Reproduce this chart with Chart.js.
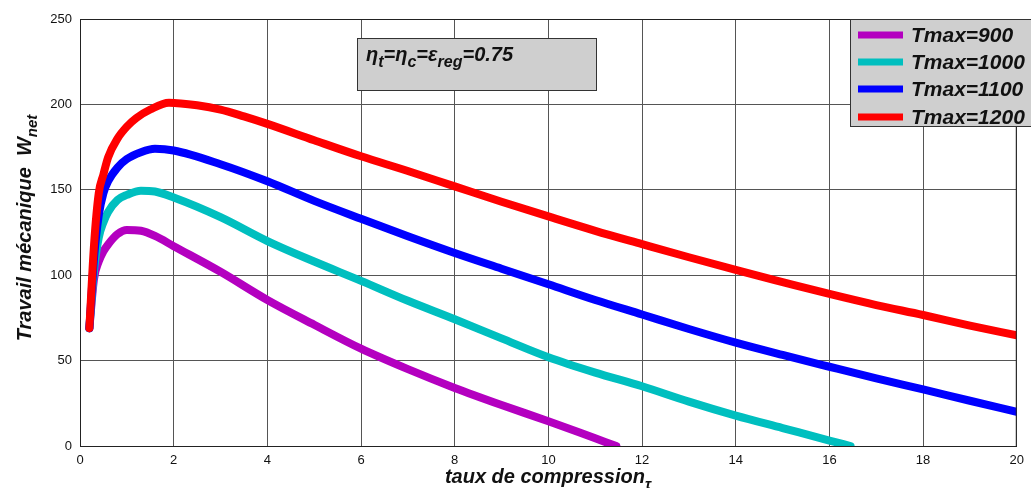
<!DOCTYPE html>
<html><head><meta charset="utf-8">
<script src="https://cdn.jsdelivr.net/npm/chart.js@4/dist/chart.umd.min.js"></script>
<style>html,body{margin:0;background:#fff}#wrap{width:1031px;height:488px}</style>
</head><body><div id="wrap"><canvas id="c"></canvas></div>
<script>
// valeurs (taux de compression -> travail net)
const tau900  = [0.2,0.3,0.4,0.5,0.6,0.8,1.0,1.3,1.6,2,3,4,5,6,7,8,9,10,11,11.45];
const w900    = [69,98,108,114,118,124,126.5,126,123,117,102,85.5,71,57,45,34,24,14.5,4.5,0];
const tau1000 = [0.2,0.3,0.4,0.5,0.6,0.8,1.0,1.3,1.6,2,3,4,5,6,7,8,9,10,11,12,13,14,15,16,16.45];
const w1000   = [69,103,122,131,137,144,147,149.5,149,145.5,134,120,108,96.7,85,74.2,63,52,43,35,26,17.8,10.5,3.2,0];
const tau1100 = [0.2,0.3,0.4,0.5,0.6,0.8,1.0,1.3,1.6,2,3,4,5,6,7,8,9,10,11,12,13,14,15,16,17,18,19,20];
const w1100   = [69,110,135,148,155,163,168,172,174,173,165,155,143.5,133,122.8,113,103.8,94.7,85.5,77,68.5,60.5,53.3,46.4,39.6,33.1,26.5,20];
const tau1200 = [0.2,0.3,0.4,0.5,0.6,0.8,1.0,1.2,1.5,1.9,2.5,3,3.5,4,5,6,7,8,9,10,11,12,13,14,15,16,17,18,19,20];
const w1200   = [69,118,148,159,169,180,187,192,197,201,199.5,197,193,188.6,179,169.6,161,152,143,134.4,126,118.2,110.5,103.1,96,89,82.5,76.7,70.5,64.8];
const labels  = ['Tmax=900','Tmax=1000','Tmax=1100','Tmax=1200'];
const colors  = ['#b400c0','#00bfbf','#0000ff','#ff0000'];
const xTicks  = [0,20,2];
const yTicks  = [0,250,50];

const FONT = '"Liberation Sans", Arial, Helvetica, sans-serif';
const pts = (xs,ys) => xs.map((x,i)=>({x, y:ys[i]}));
const series = [[tau900,w900],[tau1000,w1000],[tau1100,w1100],[tau1200,w1200]];

// texte avec indices : parts = [[texte, indice?], ...]
function richText(ctx, parts, x, y, size, subSize){
  let cx = x;
  parts.forEach(([t,sub])=>{
    ctx.font = `italic bold ${sub?subSize:size}px ${FONT}`;
    ctx.fillText(t, cx, sub ? y + size*0.3 : y);
    cx += ctx.measureText(t).width;
  });
  return cx - x;
}
function richWidth(ctx, parts, size, subSize){
  let w=0;
  parts.forEach(([t,sub])=>{ ctx.font=`italic bold ${sub?subSize:size}px ${FONT}`; w+=ctx.measureText(t).width; });
  return w;
}

const decor = {
  id:'decor',
  afterDatasetsDraw(chart){
    const ctx = chart.ctx, a = chart.chartArea;
    ctx.save();
    // cadre
    ctx.strokeStyle='#222'; ctx.lineWidth=1;
    ctx.strokeRect(a.left+0.5, a.top+0.5, a.right-a.left-1, a.bottom-a.top);
    ctx.textBaseline='alphabetic'; ctx.textAlign='left';

    // boite parametres
    ctx.fillStyle='#cfcfcf'; ctx.fillRect(357,38,239,52);
    ctx.strokeStyle='#333'; ctx.strokeRect(357.5,38.5,239,52);
    ctx.fillStyle='#111';
    richText(ctx, [['η'],['t',1],['=η'],['c',1],['=ε'],['reg',1],['=0.75']], 366, 61, 20, 16);

    // legende
    ctx.fillStyle='#cfcfcf'; ctx.fillRect(850,19,181,108);
    ctx.strokeStyle='#333'; ctx.strokeRect(850.5,19.5,182,107);
    const ly=[35,62,89,117];
    labels.forEach((lb,i)=>{
      ctx.strokeStyle=colors[i]; ctx.lineWidth=7; ctx.lineCap='butt';
      ctx.beginPath(); ctx.moveTo(858,ly[i]); ctx.lineTo(903,ly[i]); ctx.stroke();
      ctx.fillStyle='#111'; ctx.font=`italic bold 21px ${FONT}`;
      ctx.fillText(lb, 911, ly[i]+7);
    });

    // titre axe x
    const xp=[['taux de compression'],['τ',1]];
    const xw=richWidth(ctx,xp,20,15);
    ctx.fillStyle='#111';
    richText(ctx, xp, 548 - xw/2, 483, 20, 15);

    // titre axe y
    const yp=[['Travail mécanique  W'],['net',1]];
    const yw=richWidth(ctx,yp,20,15);
    ctx.translate(31, 228); ctx.rotate(-Math.PI/2);
    richText(ctx, yp, -yw/2, 0, 20, 15);
    ctx.restore();
  }
};

new Chart(document.getElementById('c'), {
  type:'line',
  data:{ datasets: series.map(([xs,ys],i)=>({
    label: labels[i], data: pts(xs,ys),
    borderColor: colors[i], backgroundColor: colors[i],
    borderWidth: 8, pointRadius: 0, borderCapStyle:'round', borderJoinStyle:'round',
    cubicInterpolationMode:'monotone', order: 4-i
  })) },
  options:{
    responsive:true, maintainAspectRatio:false, animation:false, devicePixelRatio:1,
    layout:{ padding:{ top:19, right:13, left:0, bottom:0 } },
    plugins:{ legend:{display:false}, tooltip:{enabled:false} },
    scales:{
      x:{ type:'linear', min:xTicks[0], max:xTicks[1],
          ticks:{ stepSize:xTicks[2], color:'#111', padding:7, font:{family:FONT,size:13} },
          grid:{ color:'#555', lineWidth:1, drawTicks:false },
          border:{ color:'#222' },
          afterFit(s){ s.height = 42; } },
      y:{ min:yTicks[0], max:yTicks[1],
          ticks:{ stepSize:yTicks[2], color:'#111', padding:8, font:{family:FONT,size:13} },
          grid:{ color:'#555', lineWidth:1, drawTicks:false },
          border:{ color:'#222' },
          afterFit(s){ s.width = 80; } }
    }
  },
  plugins:[decor]
});
</script></body></html>
